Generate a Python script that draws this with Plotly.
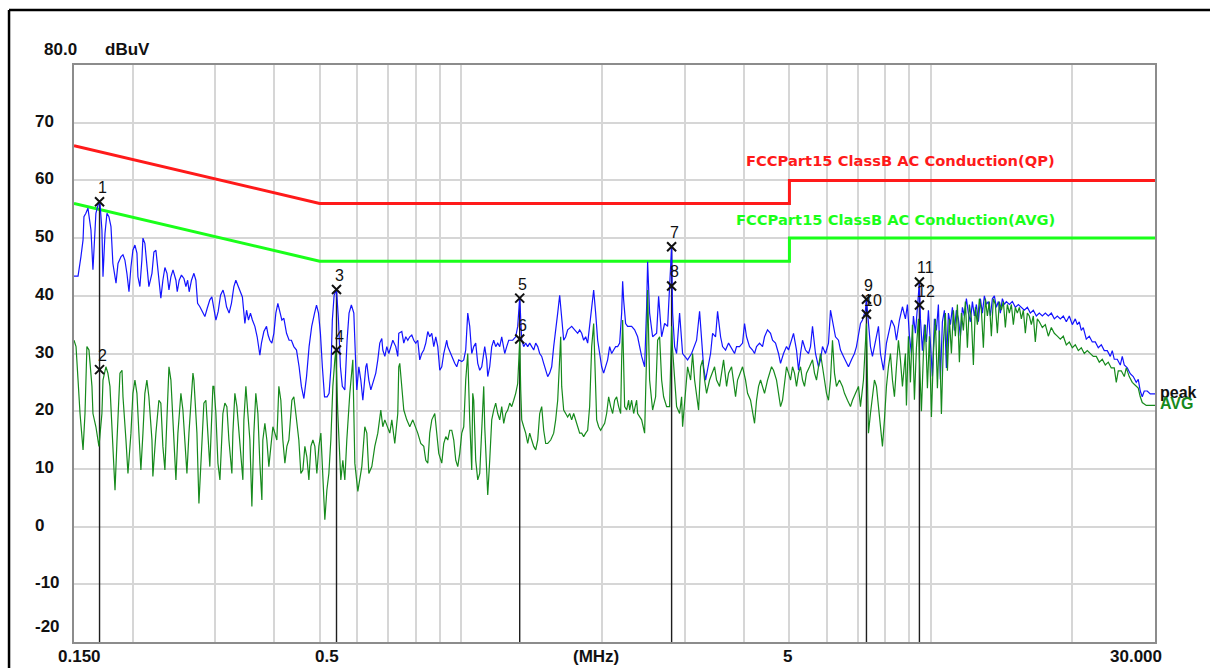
import math
import plotly.graph_objects as go

# ---------------- axis / grid data ----------------
x_range_mhz = [0.15, 30.0]
y_range_dbuv = [-20, 80]
x_grid_mhz = [0.2, 0.3, 0.4, 0.5, 0.6, 0.7, 0.8, 0.9, 1, 2, 3, 4, 5, 6, 7, 8, 9, 10, 20]
y_grid_dbuv = [-10, 0, 10, 20, 30, 40, 50, 60, 70]
y_tick_labels = ["70", "60", "50", "40", "30", "20", "10", "0", "-10", "-20"]
y_tick_values = [70, 60, 50, 40, 30, 20, 10, 0, -10, -20]
x_tick_labels = ["0.150", "0.5", "5", "30.000"]
x_tick_values = [0.15, 0.5, 5, 30]
x_unit_label = "(MHz)"
y_top_label = "80.0"
y_unit_label = "dBuV"

# ---------------- limit lines (FCC Part 15 Class B) ----------------
limit_freq = [0.15, 0.5, 5.0, 5.0, 30.0]
qp_limit = [66, 56, 56, 60, 60]
avg_limit = [56, 46, 46, 50, 50]
qp_limit_name = "FCCPart15 ClassB AC Conduction(QP)"
avg_limit_name = "FCCPart15 ClassB AC Conduction(AVG)"

# ---------------- peak trace (MHz, dBuV) ----------------
peak_freq_a = [0.1500, 0.1530, 0.1552, 0.1568, 0.1575, 0.1590, 0.1606, 0.1630, 0.1646, 0.1654,
               0.1670, 0.1687, 0.1703, 0.1720, 0.1729, 0.1746, 0.1763, 0.1780, 0.1798, 0.1815,
               0.1843, 0.1861, 0.1889, 0.1907, 0.1925, 0.1944, 0.1964, 0.1983, 0.2002, 0.2022,
               0.2042, 0.2052, 0.2072, 0.2092, 0.2103, 0.2123, 0.2144, 0.2165, 0.2198, 0.2219,
               0.2241, 0.2252, 0.2274, 0.2296, 0.2319, 0.2342, 0.2366, 0.2389]
peak_db_a = [43.4, 43.4, 46.8, 49.7, 53.7, 54.3, 55.2, 51.4, 44.5, 48.5,
             54.3, 55.7, 56.3, 51.4, 43.3, 50.8, 54.3, 53.7, 52.0, 45.6,
             42.2, 45.6, 46.8, 47.1, 46.2, 43.9, 40.7, 45.0, 47.9, 48.8,
             47.4, 43.3, 41.6, 46.2, 50.0, 49.1, 45.6, 41.6, 43.9, 47.6,
             47.9, 46.2, 42.7, 39.6, 42.7, 44.9, 43.9, 41.0]

peak_freq_b = [0.2412, 0.2437, 0.2472, 0.2488, 0.2512, 0.2540, 0.2571, 0.2596, 0.2618, 0.2638,
               0.2668, 0.2700, 0.2726, 0.2749, 0.2780, 0.2816, 0.2849, 0.2881, 0.2919, 0.2948,
               0.2978, 0.3007, 0.3041, 0.3076, 0.3114, 0.3142, 0.3168, 0.3208, 0.3245, 0.3284,
               0.3316, 0.3353, 0.3392, 0.3424, 0.3466, 0.3495, 0.3528, 0.3562, 0.3596, 0.3640,
               0.3681, 0.3730, 0.3759, 0.3804, 0.3854, 0.3884, 0.3917, 0.3956, 0.3995, 0.4034,
               0.4074, 0.4114, 0.4155, 0.4196, 0.4251, 0.4305, 0.4354, 0.4406, 0.4464, 0.4521,
               0.4572, 0.4628, 0.4689, 0.4748, 0.4809, 0.4877, 0.4924, 0.4972, 0.5019, 0.5067,
               0.5121, 0.5187, 0.5237, 0.5287, 0.5321, 0.5368, 0.5431, 0.5483, 0.5536, 0.5588,
               0.5657, 0.5720, 0.5775, 0.5841, 0.5912]
peak_db_b = [43.3, 44.5, 42.7, 40.7, 42.7, 43.6, 43.0, 41.6, 42.7, 40.7,
             42.7, 43.9, 42.7, 38.7, 38.1, 37.3, 36.4, 37.8, 39.3, 39.8,
             37.5, 35.8, 37.3, 40.1, 41.0, 39.8, 38.1, 37.0, 38.7, 41.6,
             42.7, 41.6, 40.7, 39.8, 35.2, 37.5, 35.8, 37.0, 35.8, 34.7,
             32.9, 29.7, 31.8, 33.8, 34.7, 33.2, 32.3, 31.8, 33.5, 37.0,
             38.7, 37.0, 35.8, 36.1, 33.5, 32.3, 32.3, 31.2, 30.6, 27.7,
             24.3, 22.2, 26.0, 31.2, 34.7, 37.0, 38.4, 37.0, 33.5, 27.7,
             22.5, 22.5, 23.1, 27.7, 35.8, 40.1, 41.1, 35.8, 27.7, 24.3,
             23.7, 32.3, 37.0, 38.4, 37.0]

peak_freq_c = [0.5970, 0.5999, 0.6059, 0.6118, 0.6179, 0.6209, 0.6270, 0.6301, 0.6363, 0.6426,
               0.6489, 0.6584, 0.6649, 0.6714, 0.6781, 0.6814, 0.6882, 0.6949, 0.7018, 0.7087,
               0.7157, 0.7261, 0.7333, 0.7369, 0.7479, 0.7552, 0.7626, 0.7702, 0.7777, 0.7854,
               0.7931, 0.8009, 0.8088, 0.8167, 0.8248, 0.8330, 0.8412, 0.8495, 0.8578, 0.8663,
               0.8748, 0.8834, 0.8921, 0.9009, 0.9098, 0.9187, 0.9323, 0.9369, 0.9508, 0.9601,
               0.9695, 0.9791, 0.9887, 1.0034, 1.0132, 1.0231, 1.0282, 1.0333, 1.0434, 1.0537,
               1.0641, 1.0745, 1.0852, 1.0958, 1.1067, 1.1175, 1.1230, 1.1340, 1.1396, 1.1508,
               1.1622, 1.1736, 1.1851, 1.1968, 1.2086, 1.2205, 1.2386, 1.2508, 1.2632, 1.2756,
               1.2882, 1.3071, 1.3200, 1.3330, 1.3462, 1.3594, 1.3727, 1.3863, 1.3999, 1.4138,
               1.4277, 1.4417, 1.4560, 1.4702, 1.4848, 1.4993, 1.5140, 1.5290, 1.5440, 1.5593,
               1.5746, 1.5900, 1.6058, 1.6215, 1.6376, 1.6536, 1.6698, 1.6863, 1.7029, 1.7197,
               1.7451, 1.7710, 1.7884, 1.8061, 1.8238, 1.8417, 1.8599, 1.8781, 1.8968, 1.9154,
               1.9342, 1.9533, 1.9725, 1.9920, 2.0115, 2.0312, 2.0513, 2.0714, 2.0920, 2.1125,
               2.1332, 2.1543, 2.1755, 2.1970, 2.2078, 2.2185, 2.2402, 2.2624]
peak_db_c = [27.7, 23.7, 27.7, 25.4, 21.9, 24.3, 27.7, 28.3, 25.4, 23.7,
             24.8, 26.6, 28.9, 31.8, 32.6, 30.6, 29.5, 31.2, 30.0, 31.2,
             32.3, 31.2, 29.5, 33.5, 33.8, 31.8, 32.9, 32.3, 32.9, 33.2,
             32.3, 31.8, 32.3, 28.9, 30.0, 30.6, 31.8, 33.8, 32.9, 33.5,
             31.2, 32.9, 31.2, 27.1, 27.7, 30.0, 32.3, 31.2, 30.0, 28.9,
             28.3, 27.7, 28.9, 28.6, 28.9, 30.6, 33.5, 37.0, 34.7, 30.0,
             31.2, 31.8, 28.3, 27.1, 27.7, 30.0, 31.2, 28.9, 26.0, 27.7,
             31.2, 32.3, 31.2, 31.8, 31.2, 32.9, 30.0, 31.2, 32.3, 32.3,
             32.3, 32.9, 34.7, 39.8, 32.3, 31.2, 31.8, 31.2, 31.8, 31.2,
             30.6, 31.8, 31.2, 30.0, 29.5, 28.3, 27.1, 26.0, 26.6, 27.7,
             31.2, 34.7, 37.0, 40.1, 35.8, 32.3, 32.9, 34.1, 34.4, 34.7,
             34.1, 33.5, 34.1, 33.5, 32.3, 32.9, 31.8, 34.7, 38.1, 41.0,
             37.0, 32.3, 30.0, 27.7, 26.6, 27.7, 28.9, 31.2, 30.0, 30.6,
             31.2, 31.2, 31.8, 37.0, 42.5, 39.3, 35.2, 34.7]

peak_freq_d = [2.3072, 2.3413, 2.3760, 2.4231, 2.4588, 2.4830, 2.4952, 2.5197, 2.5571, 2.6077,
               2.6334, 2.6725, 2.7119, 2.7521, 2.7791, 2.8066, 2.8204, 2.8480, 2.8760, 2.9186,
               2.9619, 2.9910, 3.0353, 3.0955, 3.1411, 3.1721, 3.2190, 3.2508, 3.2827, 3.3149,
               3.3477, 3.3973, 3.4308, 3.4813, 3.5158, 3.5678, 3.6030, 3.6560, 3.7103, 3.7838,
               3.8209, 3.8586, 3.9156, 3.9738, 4.0127, 4.0522, 4.1121, 4.1732, 4.2141, 4.2557,
               4.3186, 4.3827, 4.4257, 4.4913, 4.5578, 4.6027, 4.6704, 4.7398, 4.7865, 4.8573,
               4.9292, 4.9778, 5.0516, 5.1011, 5.1766, 5.2276, 5.2791, 5.3312, 5.4096, 5.4900,
               5.5441, 5.5987, 5.6811, 5.7655, 5.8224, 5.8797, 5.9663, 6.0549, 6.1146, 6.1749,
               6.2658, 6.3589, 6.4216, 6.5165, 6.6129, 6.6781, 6.7772, 6.8771, 6.9449, 7.0133,
               7.0824, 7.1522, 7.2575, 7.2935, 7.3294, 7.4379, 7.5112, 7.6218, 7.7350, 7.8112,
               7.9267, 8.0440, 8.1233, 8.2438, 8.3654, 8.4478, 8.5727, 8.6998]
peak_db_d = [34.7, 34.1, 32.9, 29.5, 27.7, 38.0, 45.9, 37.0, 32.9, 33.5,
             39.9, 32.9, 35.2, 34.7, 41.6, 48.5, 37.0, 31.2, 30.0, 37.0,
             30.0, 29.5, 28.9, 30.0, 31.2, 32.3, 37.3, 32.9, 27.7, 25.4,
             27.1, 30.0, 33.5, 32.9, 37.3, 32.9, 31.2, 30.6, 31.8, 30.6,
             30.0, 31.2, 31.2, 31.8, 35.2, 32.9, 31.2, 30.6, 30.0, 31.2,
             31.8, 31.2, 32.9, 34.1, 33.5, 32.3, 31.8, 30.0, 28.3, 30.0,
             31.2, 30.6, 32.3, 33.5, 30.6, 27.1, 30.0, 32.3, 30.6, 30.0,
             31.2, 34.7, 30.0, 27.7, 28.9, 31.2, 30.0, 31.8, 37.5, 35.8,
             32.9, 32.3, 30.6, 29.5, 28.3, 27.7, 28.9, 30.0, 31.2, 32.9,
             35.2, 35.8, 37.5, 39.4, 37.0, 31.2, 29.5, 32.3, 34.7, 30.0,
             27.1, 31.8, 33.5, 35.8, 34.7, 32.3, 35.8, 38.1]

peak_freq_e = [8.8281, 8.9155, 9.0029, 9.0921, 9.1813, 9.2713, 9.3631, 9.4549, 9.5017, 9.5954,
               9.6893, 9.7848, 9.8812, 9.9786, 10.077, 10.176, 10.276, 10.377, 10.479, 10.583,
               10.687, 10.792, 10.899, 11.006, 11.115, 11.223, 11.333, 11.445, 11.558, 11.672,
               11.786, 11.903, 12.020, 12.138, 12.258, 12.378, 12.500, 12.623, 12.748, 12.874,
               12.999, 13.127, 13.257, 13.387, 13.519, 13.652, 13.786, 13.922, 14.059, 14.198,
               14.337, 14.478, 14.692, 14.910, 15.130, 15.355, 15.582, 15.812, 16.047, 16.284,
               16.525, 16.770, 17.017, 17.270, 17.525, 17.785, 18.049, 18.315, 18.587, 18.862,
               19.141, 19.424, 19.711, 20.004, 20.298, 20.499, 20.700, 20.905, 21.110, 21.422,
               21.739, 22.062, 22.387, 22.720, 23.057, 23.397, 23.744, 24.096, 24.333, 24.571,
               24.935, 25.305, 25.554, 25.805, 26.187, 26.575, 26.968, 27.367, 27.637, 27.909,
               28.184, 28.460, 28.882, 29.309, 30.0]
peak_db_e = [36.0, 38.5, 33.0, 30.0, 36.5, 33.5, 38.0, 42.4, 36.0, 30.5,
             35.0, 32.0, 37.5, 31.0, 26.0, 36.0, 34.0, 38.5, 25.5, 35.5,
             37.5, 27.5, 37.0, 35.0, 38.0, 34.0, 37.5, 36.0, 33.0, 38.0,
             36.5, 39.5, 37.0, 35.5, 39.0, 36.5, 38.5, 35.5, 39.5, 37.0,
             40.0, 38.5, 39.0, 36.5, 39.5, 40.0, 38.0, 39.0, 37.0, 39.5,
             38.5, 39.0, 38.5, 39.0, 38.0, 38.5, 38.0, 37.5, 38.0, 37.0,
             37.5, 36.5, 37.0, 36.5, 37.0, 36.5, 37.0, 36.0, 36.5, 36.0,
             36.5, 35.5, 36.5, 35.0, 36.0, 35.0, 35.5, 34.0, 34.5, 32.5,
             33.0, 32.0, 32.0, 31.0, 31.5, 30.5, 30.5, 29.5, 30.5, 29.0,
             29.0, 28.0, 29.5, 28.0, 27.5, 26.5, 26.0, 25.0, 25.5, 23.5,
             22.5, 23.5, 23.5, 23.0, 23.0]

# ---------------- average trace (MHz, dBuV) ----------------
avg_freq_a = [0.1500, 0.1515, 0.1530, 0.1545, 0.1568, 0.1583, 0.1598, 0.1614, 0.1638, 0.1646,
              0.1670, 0.1695, 0.1720, 0.1729, 0.1754, 0.1771, 0.1789, 0.1815, 0.1834, 0.1852,
              0.1879, 0.1898, 0.1907, 0.1935, 0.1954, 0.1983, 0.2002, 0.2022, 0.2042, 0.2062,
              0.2082, 0.2103, 0.2123, 0.2144, 0.2165, 0.2198, 0.2208, 0.2241, 0.2274, 0.2296,
              0.2319, 0.2342, 0.2366, 0.2389, 0.2412, 0.2448, 0.2472, 0.2496, 0.2533, 0.2558,
              0.2584, 0.2609, 0.2635, 0.2661, 0.2687, 0.2700, 0.2740, 0.2767, 0.2808, 0.2835,
              0.2863, 0.2891, 0.2919, 0.2963, 0.2978, 0.3007, 0.3037, 0.3067, 0.3112, 0.3142,
              0.3173, 0.3205, 0.3252, 0.3268, 0.3300, 0.3333, 0.3382, 0.3432, 0.3449, 0.3483,
              0.3517, 0.3552, 0.3587, 0.3622, 0.3657, 0.3694, 0.3730, 0.3767, 0.3785, 0.3823,
              0.3860, 0.3898, 0.3937, 0.3976, 0.4015, 0.4054, 0.4094, 0.4134, 0.4175, 0.4217,
              0.4258, 0.4300, 0.4364, 0.4406, 0.4449, 0.4515, 0.4560, 0.4605, 0.4651, 0.4696,
              0.4743, 0.4790, 0.4837, 0.4884, 0.4932, 0.4981, 0.5030, 0.5079, 0.5129, 0.5180,
              0.5231, 0.5282, 0.5334, 0.5386, 0.5413, 0.5466, 0.5547, 0.5602, 0.5657, 0.5712,
              0.5797, 0.5883]
avg_db_a = [32.3, 31.2, 25.4, 19.6, 13.3, 19.6, 31.2, 30.6, 24.3, 19.6,
            17.3, 13.9, 19.6, 25.4, 27.7, 26.6, 24.3, 13.9, 6.3, 15.0,
            26.6, 27.1, 22.5, 15.0, 9.2, 16.2, 23.1, 25.4, 23.1, 16.2,
            9.8, 16.2, 23.1, 25.4, 22.5, 15.0, 8.7, 16.2, 21.9, 21.4,
            13.9, 9.8, 19.6, 27.7, 25.4, 13.9, 8.1, 16.2, 23.1, 20.2,
            13.9, 9.2, 16.2, 21.9, 26.6, 25.4, 16.2, 4.0, 16.2, 21.4,
            21.9, 16.2, 10.4, 24.3, 24.3, 19.6, 11.0, 8.1, 19.6, 21.4,
            20.8, 15.0, 9.2, 16.2, 23.1, 20.8, 15.0, 8.1, 18.5, 24.3,
            19.6, 15.0, 3.5, 16.2, 23.1, 19.6, 11.0, 4.6, 15.0, 17.9,
            15.0, 10.4, 13.9, 17.3, 16.2, 15.0, 24.3, 21.9, 15.0, 11.0,
            13.9, 15.0, 21.9, 22.5, 19.6, 15.0, 9.2, 9.8, 13.9, 12.1,
            8.1, 13.9, 15.0, 13.9, 9.2, 13.9, 16.2, 8.1, 1.2, 6.3,
            9.2, 15.0, 24.3, 28.9, 30.4, 19.6, 8.1, 11.5, 8.1, 15.0,
            23.1, 28.9]

avg_freq_b = [0.5941, 0.6029, 0.6148, 0.6239, 0.6301, 0.6363, 0.6457, 0.6552, 0.6649, 0.6748,
              0.6814, 0.6882, 0.6984, 0.7052, 0.7122, 0.7226, 0.7333, 0.7369, 0.7405, 0.7479,
              0.7552, 0.7664, 0.7777, 0.7893, 0.8009, 0.8088, 0.8208, 0.8330, 0.8412, 0.8495,
              0.8578, 0.8663, 0.8791, 0.8878, 0.8965, 0.9098, 0.9187, 0.9277, 0.9369, 0.9461,
              0.9554, 0.9648, 0.9743, 0.9839, 0.9935, 1.0034, 1.0132, 1.0231, 1.0282, 1.0333,
              1.0434, 1.0537, 1.0589, 1.0641, 1.0745, 1.0852, 1.0958, 1.1067, 1.1175, 1.1230,
              1.1340, 1.1396, 1.1508, 1.1622, 1.1736, 1.1851, 1.1968, 1.2086, 1.2205, 1.2326,
              1.2447, 1.2570, 1.2693, 1.2819, 1.2944, 1.3071, 1.3200, 1.3330, 1.3396, 1.3462,
              1.3594, 1.3727, 1.3863, 1.3999, 1.4138, 1.4277, 1.4417, 1.4560, 1.4702, 1.4848,
              1.4993, 1.5140, 1.5290, 1.5517, 1.5746, 1.5900, 1.6058, 1.6215, 1.6296, 1.6376,
              1.6536, 1.6698, 1.6863, 1.7029, 1.7197, 1.7366, 1.7536, 1.7710, 1.7884, 1.8061,
              1.8238, 1.8417, 1.8599, 1.8781, 1.8968, 1.9154, 1.9248, 1.9437, 1.9629, 1.9822,
              2.0018, 2.0214, 2.0413, 2.0614, 2.0817, 2.1022, 2.1229, 2.1438, 2.1649, 2.1862,
              2.1970, 2.2078, 2.2294, 2.2513, 2.2735]
avg_db_b = [11.0, 6.1, 10.4, 17.3, 16.2, 9.2, 10.4, 13.9, 16.2, 20.2,
            17.3, 18.5, 17.3, 16.2, 18.5, 14.4, 19.6, 27.7, 28.3, 24.3,
            20.2, 18.5, 17.3, 18.5, 17.3, 16.2, 14.4, 13.9, 11.5, 11.0,
            16.2, 18.5, 19.6, 16.2, 12.7, 11.0, 14.4, 15.6, 15.0, 16.7,
            16.7, 15.0, 11.5, 10.4, 12.7, 16.2, 17.3, 25.4, 28.9, 30.0,
            18.5, 9.8, 23.1, 21.9, 11.5, 8.1, 9.2, 18.5, 24.3, 17.3,
            8.1, 5.5, 11.5, 18.5, 20.2, 21.4, 19.6, 18.5, 20.8, 17.9,
            19.6, 20.2, 21.4, 20.8, 21.9, 23.1, 24.8, 32.3, 23.7, 18.5,
            17.3, 16.2, 14.4, 16.2, 15.0, 13.9, 13.3, 15.0, 19.6, 20.8,
            16.7, 14.4, 14.4, 15.0, 16.2, 18.5, 21.9, 30.0, 32.9, 24.3,
            20.2, 19.6, 19.0, 19.6, 18.5, 19.6, 18.5, 17.3, 16.2, 16.2,
            15.6, 16.2, 16.7, 20.8, 31.2, 35.2, 28.3, 18.5, 17.3, 16.7,
            17.3, 17.9, 19.6, 22.5, 20.8, 19.6, 21.9, 22.5, 20.8, 19.6,
            28.9, 35.8, 20.8, 20.2, 21.9]

avg_freq_c = [2.2846, 2.3072, 2.3299, 2.3644, 2.3760, 2.4231, 2.4588, 2.4830, 2.4952, 2.5197,
              2.5447, 2.5571, 2.5949, 2.6206, 2.6463, 2.6725, 2.6987, 2.7386, 2.7791, 2.8066,
              2.8204, 2.8480, 2.8760, 2.9186, 2.9475, 2.9619, 3.0056, 3.0353, 3.0803, 3.1106,
              3.1411, 3.1721, 3.2033, 3.2349, 3.2668, 3.2988, 3.3313, 3.3805, 3.4308, 3.4644,
              3.4985, 3.5502, 3.5854, 3.6205, 3.6741, 3.7103, 3.7653, 3.8023, 3.8396, 3.8776,
              3.9350, 3.9738, 4.0322, 4.0722, 4.1325, 4.1732, 4.2141, 4.2557, 4.2976, 4.3400,
              4.3827, 4.4257, 4.4913, 4.5353, 4.5803, 4.6251, 4.6936, 4.7398, 4.7865, 4.8337,
              4.8811, 4.9292, 4.9778, 5.0268, 5.0764, 5.1261, 5.1766, 5.2276, 5.2791, 5.3312,
              5.3834, 5.4364, 5.5168, 5.5987, 5.6536, 5.7093, 5.7655, 5.8224, 5.8797, 5.9374,
              5.9959, 6.0549, 6.1146, 6.1749, 6.2354, 6.2968, 6.3899, 6.4848, 6.5484, 6.6455,
              6.7439, 6.8104, 6.9107, 7.0133, 7.0824, 7.1871, 7.2935, 7.3294, 7.3653, 7.4379,
              7.5112, 7.5848, 7.6595, 7.7350, 7.8497, 7.8882, 7.9655, 8.0440, 8.1233, 8.2033,
              8.2842, 8.3654, 8.4478, 8.5310, 8.6151, 8.6998]
avg_db_c = [20.2, 21.9, 19.6, 21.9, 19.6, 18.5, 16.2, 30.0, 41.0, 25.4,
            21.9, 20.2, 22.5, 32.3, 32.9, 25.4, 22.5, 20.8, 20.8, 34.7,
            30.6, 25.4, 20.8, 19.6, 22.5, 17.3, 24.3, 27.7, 25.4, 30.0,
            25.4, 22.5, 20.2, 27.7, 28.9, 25.4, 23.1, 25.4, 26.6, 27.7,
            25.4, 24.3, 26.6, 28.9, 24.3, 26.6, 27.7, 25.4, 22.5, 25.4,
            26.6, 27.7, 25.4, 23.1, 21.9, 19.6, 17.9, 21.9, 24.3, 25.4,
            24.3, 23.1, 25.4, 26.6, 27.7, 27.1, 25.4, 23.1, 20.8, 21.9,
            25.4, 27.7, 26.6, 25.4, 27.7, 26.6, 24.3, 26.6, 27.7, 25.4,
            24.3, 26.6, 27.7, 28.9, 26.6, 25.4, 27.7, 30.0, 27.7, 25.4,
            23.1, 21.9, 25.4, 32.3, 26.6, 24.3, 25.4, 24.3, 23.1, 21.9,
            20.8, 21.9, 23.1, 24.3, 20.8, 25.4, 35.2, 26.6, 16.2, 19.6,
            23.1, 25.4, 24.3, 20.8, 16.2, 13.9, 18.5, 24.3, 27.7, 30.0,
            25.4, 22.5, 27.7, 32.3, 28.9, 24.3]

avg_freq_d = [8.8281, 8.8718, 8.9592, 9.0475, 9.1367, 9.2263, 9.3172, 9.4090, 9.4549, 9.5486,
              9.6421, 9.7366, 9.8330, 9.9294, 10.028, 10.126, 10.225, 10.326, 10.428, 10.531,
              10.635, 10.739, 10.846, 10.952, 11.060, 11.168, 11.277, 11.389, 11.501, 11.615,
              11.729, 11.844, 11.961, 12.079, 12.198, 12.318, 12.439, 12.562, 12.685, 12.811,
              12.936, 13.063, 13.192, 13.321, 13.453, 13.585, 13.718, 13.854, 13.990, 14.128,
              14.267, 14.407, 14.549, 14.692, 14.838, 14.983, 15.130, 15.280, 15.430, 15.582,
              15.735, 15.889, 16.047, 16.204, 16.364, 16.525, 16.687, 16.852, 17.017, 17.270,
              17.525, 17.785, 18.049, 18.315, 18.587, 18.862, 19.141, 19.424, 19.711, 20.004,
              20.298, 20.600, 20.905, 21.213, 21.528, 21.847, 22.170, 22.498, 22.831, 23.170,
              23.511, 23.860, 24.214, 24.571, 24.813, 25.057, 25.429, 25.805, 26.059, 26.444,
              26.837, 27.232, 27.637, 27.909, 28.184, 28.740, 29.309, 30.0]
avg_db_d = [30.0, 21.0, 33.0, 25.0, 35.0, 22.0, 31.0, 36.0, 29.0, 20.0,
            30.0, 35.0, 24.0, 33.0, 19.0, 30.0, 36.0, 24.0, 34.0, 19.5,
            32.0, 37.0, 27.0, 36.0, 30.0, 37.5, 33.0, 38.5, 28.5, 37.0,
            34.0, 39.0, 31.0, 38.5, 36.0, 28.0, 38.0, 35.0, 39.5, 37.5,
            31.0, 39.5, 36.5, 39.0, 33.0, 39.5, 38.5, 33.5, 39.0, 37.5,
            39.0, 34.5, 38.5, 37.0, 38.5, 35.0, 38.0, 37.0, 38.0, 36.0,
            37.5, 33.5, 37.0, 36.5, 35.0, 36.5, 32.0, 36.0, 35.5, 34.5,
            35.0, 33.0, 34.5, 33.5, 33.0, 32.5, 33.0, 31.5, 32.0, 31.0,
            31.5, 30.5, 31.0, 30.0, 30.5, 30.0, 29.5, 29.5, 28.5, 29.0,
            28.0, 28.5, 27.5, 27.5, 25.0, 27.0, 27.0, 26.0, 27.5, 26.0,
            25.0, 24.5, 24.0, 22.5, 21.5, 21.0, 21.0, 21.0]

# ---------------- measured markers ----------------
marker_freq = [0.1700, 0.1700, 0.5431, 0.5431, 1.3330, 1.3330, 2.8066, 2.8066, 7.2935, 7.2935, 9.4549, 9.4549]
marker_level = [56.3, 27.2, 41.1, 30.6, 39.6, 32.5, 48.5, 41.7, 39.4, 36.8, 42.4, 38.4]
marker_label = ["1", "2", "3", "4", "5", "6", "7", "8", "9", "10", "11", "12"]

# ---------------- assemble ----------------
peak_freq = peak_freq_a + peak_freq_b + peak_freq_c + peak_freq_d + peak_freq_e
peak_db = peak_db_a + peak_db_b + peak_db_c + peak_db_d + peak_db_e
avg_freq = avg_freq_a + avg_freq_b + avg_freq_c + avg_freq_d
avg_db = avg_db_a + avg_db_b + avg_db_c + avg_db_d
n = min(len(peak_freq), len(peak_db)); peak_freq, peak_db = peak_freq[:n], peak_db[:n]
n = min(len(avg_freq), len(avg_db)); avg_freq, avg_db = avg_freq[:n], avg_db[:n]

TICK_FONT = dict(family="Liberation Sans, Arial, sans-serif", size=17, color="#111111", weight="bold")
LIMIT_FONT = "DejaVu Sans, Verdana, sans-serif"

fig = go.Figure()
fig.add_trace(go.Scatter(x=limit_freq, y=qp_limit, mode="lines",
                         line=dict(color="#ff1a1a", width=3), hoverinfo="skip"))
fig.add_trace(go.Scatter(x=limit_freq, y=avg_limit, mode="lines",
                         line=dict(color="#1aff1a", width=3), hoverinfo="skip"))

for i in range(0, len(marker_freq), 2):
    fig.add_trace(go.Scatter(x=[marker_freq[i], marker_freq[i]],
                             y=[marker_level[i], y_range_dbuv[0]], mode="lines",
                             line=dict(color="#1e1e1e", width=1.4), hoverinfo="skip"))

fig.add_trace(go.Scatter(x=peak_freq, y=peak_db, mode="lines",
                         line=dict(color="#1414ff", width=1.2), hoverinfo="skip"))
fig.add_trace(go.Scatter(x=avg_freq, y=avg_db, mode="lines",
                         line=dict(color="#168a1c", width=1.2), hoverinfo="skip"))
fig.add_trace(go.Scatter(x=marker_freq, y=marker_level, mode="markers",
                         marker=dict(symbol="x-thin", size=9, color="#111111",
                                     line=dict(width=2, color="#111111")),
                         hoverinfo="skip"))

ann = []
for f, lv, lab in zip(marker_freq, marker_level, marker_label):
    ann.append(dict(x=math.log10(f), y=lv, xref="x", yref="y", text=lab, showarrow=False,
                    xanchor="left", yanchor="middle", xshift=-4, yshift=14,
                    font=dict(family="Liberation Sans, Arial, sans-serif", size=16, color="#111111")))

for lab, val in zip(y_tick_labels, y_tick_values):
    ann.append(dict(x=-0.0379, y=val, xref="paper", yref="y", text=lab, showarrow=False,
                    xanchor="left", yanchor="middle", yshift=(16 if val == y_range_dbuv[0] else 1.5),
                    font=TICK_FONT))
ann.append(dict(x=-0.0296, y=1.0277, xref="paper", yref="paper", text=y_top_label, showarrow=False,
                xanchor="left", yanchor="middle", font=TICK_FONT))
ann.append(dict(x=0.0268, y=1.0277, xref="paper", yref="paper", text=y_unit_label, showarrow=False,
                xanchor="left", yanchor="middle", font=TICK_FONT))

x_shifts = [5, 7, -2, -19]
for lab, val, sh in zip(x_tick_labels, x_tick_values, x_shifts):
    ann.append(dict(x=math.log10(val), y=-0.0243, xref="x", yref="paper", text=lab, showarrow=False,
                    xanchor="center", yanchor="middle", xshift=sh, font=TICK_FONT))
ann.append(dict(x=0.483, y=-0.0243, xref="paper", yref="paper", text=x_unit_label, showarrow=False,
                xanchor="center", yanchor="middle", font=TICK_FONT))

ann.append(dict(x=0.9093, y=63.4, xref="paper", yref="y", text=qp_limit_name, showarrow=False,
                xanchor="right", yanchor="middle",
                font=dict(family=LIMIT_FONT, size=14.7, color="#ff1a1a", weight="bold")))
ann.append(dict(x=0.9093, y=53.3, xref="paper", yref="y", text=avg_limit_name, showarrow=False,
                xanchor="right", yanchor="middle",
                font=dict(family=LIMIT_FONT, size=14.7, color="#1aff1a", weight="bold")))

ann.append(dict(x=1.0028, y=23.3, xref="paper", yref="y", text="peak", showarrow=False,
                xanchor="left", yanchor="middle",
                font=dict(family="Liberation Sans, Arial, sans-serif", size=16, color="#111111", weight="bold")))
ann.append(dict(x=1.0028, y=21.4, xref="paper", yref="y", text="AVG", showarrow=False,
                xanchor="left", yanchor="middle",
                font=dict(family="Liberation Sans, Arial, sans-serif", size=16, color="#168a1c", weight="bold")))

shapes = [
    dict(type="line", xref="paper", yref="paper", x0=-0.0601, x1=-0.0601, y0=1.0953, y1=-0.06,
         line=dict(color="#000000", width=2.5)),
    dict(type="line", xref="paper", yref="paper", x0=-0.0601, x1=1.06, y0=1.0953, y1=1.0953,
         line=dict(color="#000000", width=2.5)),
]

fig.update_layout(
    width=1210, height=668,
    margin=dict(l=74, r=55, t=65, b=26),
    paper_bgcolor="white", plot_bgcolor="white",
    showlegend=False,
    annotations=ann, shapes=shapes,
    xaxis=dict(type="log", range=[math.log10(x_range_mhz[0]), math.log10(x_range_mhz[1])],
               tickvals=x_grid_mhz, showticklabels=False, ticks="",
               showgrid=True, gridcolor="#d6d6d6", gridwidth=2, zeroline=False,
               showline=True, linecolor="#8c8c8c", linewidth=2, mirror=True, fixedrange=True),
    yaxis=dict(range=y_range_dbuv, tickvals=y_grid_dbuv, showticklabels=False, ticks="",
               showgrid=True, gridcolor="#d6d6d6", gridwidth=2, zeroline=False,
               showline=True, linecolor="#8c8c8c", linewidth=2, mirror=True, fixedrange=True),
)

fig.write_html("out.html", config={"displayModeBar": False},
               post_script="document.body.style.margin='0';document.body.style.overflow='hidden';")
